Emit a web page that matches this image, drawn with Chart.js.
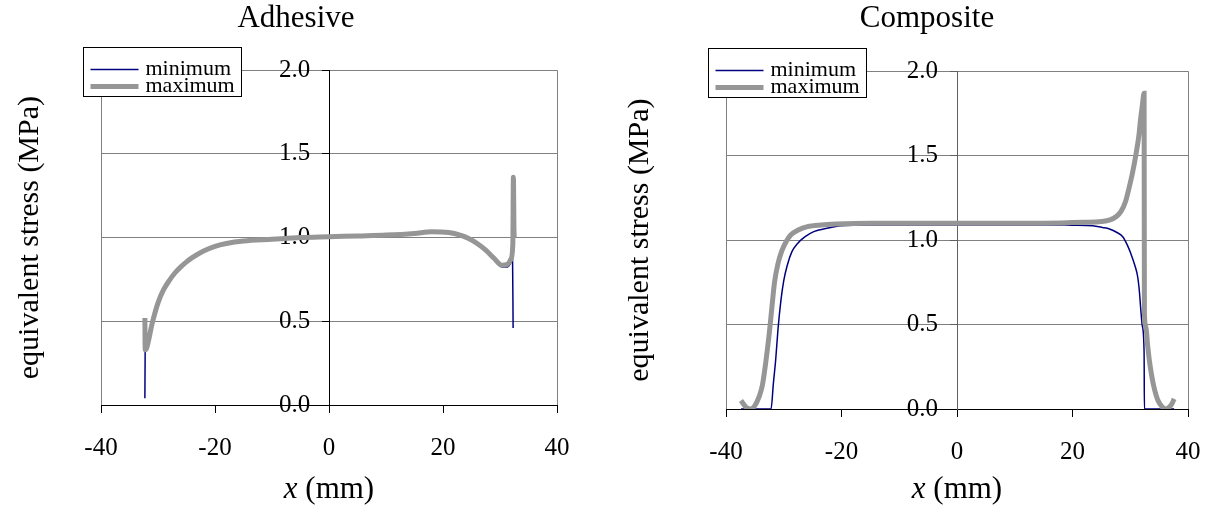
<!DOCTYPE html>
<html>
<head>
<meta charset="utf-8">
<script src="https://cdn.jsdelivr.net/npm/chart.js@4.4.1/dist/chart.umd.min.js"></script>
<style>
  html, body { margin: 0; padding: 0; background: #fff; overflow: hidden; width: 1209px; height: 515px; }
  canvas { position: absolute; top: 0; }
  #adhesive { left: 0; }
  #composite { left: 604px; }
</style>
</head>
<body>
<canvas id="adhesive" width="604" height="515"></canvas>
<canvas id="composite" width="632" height="515"></canvas>
<script>
// tick labels
const xTicks = [-40, -20, 0, 20, 40];
const yTicks = [0, 0.5, 1.0, 1.5, 2.0];
const seriesNames = ['minimum', 'maximum'];

// Adhesive
const adhesiveMinX = [-32.3, -32.25, -32.0, -31.0, -30.0, -29.0, -28.0, -27.0, -26.0, -25.0, -24.0, -22.0, -20.0, -18.0, -15.0, -10.0, -5.0, 0, 5, 10, 15, 18, 21, 23, 24.5, 26, 27.5, 29, 30.3, 31.3, 31.9, 32.2, 32.3];
const adhesiveMinY = [0.04, 0.33, 0.34, 0.49, 0.61, 0.69, 0.745, 0.79, 0.825, 0.855, 0.88, 0.92, 0.948, 0.965, 0.98, 0.99, 1.0, 1.005, 1.01, 1.015, 1.025, 1.035, 1.03, 1.015, 0.995, 0.965, 0.925, 0.875, 0.825, 0.825, 0.85, 0.88, 0.46];
const adhesiveMaxX = [-32.3, -32.25, -32.0, -31.0, -30.0, -29.0, -28.0, -27.0, -26.0, -25.0, -24.0, -22.0, -20.0, -18.0, -15.0, -10.0, -5.0, 0, 5, 10, 15, 18, 21, 23, 24.5, 26, 27.5, 29, 30.3, 31.3, 31.9, 32.25, 32.35, 32.45, 32.5];
const adhesiveMaxY = [0.52, 0.33, 0.34, 0.49, 0.61, 0.69, 0.745, 0.79, 0.825, 0.855, 0.88, 0.92, 0.948, 0.965, 0.98, 0.99, 1.0, 1.005, 1.01, 1.015, 1.025, 1.035, 1.03, 1.015, 0.995, 0.965, 0.925, 0.875, 0.835, 0.84, 0.87, 0.96, 1.36, 1.05, 1.0];

// Composite
const compositeMinX = [-37.4, -32.2, -31.8, -31.4, -31.0, -30.5, -30.0, -29.4, -28.6, -27.6, -26.3, -24.8, -22.5, -20.2, -15, 0, 15, 20, 23.5, 25.2, 26.4, 27.7, 28.7, 29.5, 30.1, 30.8, 31.3, 31.6, 31.8, 32.1, 32.4, 32.45, 37.6];
const compositeMinY = [0, 0, 0.15, 0.29, 0.47, 0.64, 0.76, 0.85, 0.93, 0.98, 1.02, 1.05, 1.07, 1.085, 1.09, 1.09, 1.09, 1.088, 1.085, 1.075, 1.066, 1.045, 1.02, 0.97, 0.92, 0.85, 0.78, 0.69, 0.60, 0.49, 0.33, 0, 0];
const compositeMaxX = [-37.4, -36.5, -35.7, -35.0, -34.3, -33.7, -33.1, -32.5, -32.0, -31.6, -31.0, -30.4, -29.6, -28.8, -27.5, -25.9, -23.5, -21, -15, 0, 15, 22, 25, 26.5, 27.6, 28.4, 29.2, 29.8, 30.4, 31.0, 31.5, 31.8, 32.1, 32.4, 32.45, 32.7, 33.0, 33.3, 33.7, 34.1, 34.8, 35.6, 36.2, 36.7, 37.2, 37.6];
const compositeMaxY = [0.05, 0.01, 0.0, 0.02, 0.07, 0.14, 0.28, 0.45, 0.62, 0.75, 0.86, 0.93, 0.99, 1.03, 1.06, 1.08, 1.09, 1.095, 1.1, 1.1, 1.1, 1.105, 1.11, 1.12, 1.14, 1.17, 1.23, 1.31, 1.40, 1.51, 1.62, 1.72, 1.80, 1.87, 0.57, 0.49, 0.38, 0.29, 0.2, 0.13, 0.05, 0.01, 0.0, 0.01, 0.03, 0.06];

const serif = "'Liberation Serif', 'Times New Roman', serif";
Chart.defaults.font.family = serif;
Chart.defaults.color = '#000';

function points(xs, ys) {
  return xs.map((x, i) => ({ x: x, y: ys[i] }));
}

// legend box drawn over the plot, like the original
const boxLegend = {
  id: 'boxLegend',
  afterDraw(chart) {
    const a = chart.chartArea;
    const ctx = chart.ctx;
    const L = Math.round(a.left) - 17.5, T = Math.round(a.top) - 22.5;
    ctx.save();
    ctx.fillStyle = '#fff';
    ctx.fillRect(L, T, 158, 49);
    ctx.strokeStyle = '#000';
    ctx.lineWidth = 1;
    ctx.strokeRect(L, T, 158, 49);
    chart.data.datasets.forEach((ds, i) => {
      const y = T + 22 + i * 17;
      ctx.beginPath();
      ctx.strokeStyle = ds.borderColor;
      ctx.lineWidth = ds.borderWidth;
      ctx.moveTo(L + 7, y);
      ctx.lineTo(L + 55, y);
      ctx.stroke();
      ctx.fillStyle = '#000';
      ctx.font = '22px ' + serif;
      ctx.textBaseline = 'middle';
      ctx.textAlign = 'left';
      ctx.fillText(ds.label, L + 62, y);
    });
    ctx.restore();
  }
};

// x-axis title with italic x
const xTitle = {
  id: 'xTitle',
  afterDraw(chart) {
    const a = chart.chartArea;
    const ctx = chart.ctx;
    ctx.save();
    ctx.fillStyle = '#000';
    ctx.textBaseline = 'middle';
    ctx.textAlign = 'left';
    const it = 'italic 31px ' + serif, rm = '31px ' + serif;
    ctx.font = it;
    const w1 = ctx.measureText('x').width;
    ctx.font = rm;
    const w2 = ctx.measureText(' (mm)').width;
    let x = (a.left + a.right) / 2 - (w1 + w2) / 2;
    ctx.font = it;
    ctx.fillText('x', x, 490);
    ctx.font = rm;
    ctx.fillText(' (mm)', x + w1, 490);
    ctx.restore();
  }
};

function makeChart(id, title, minPts, maxPts, o) {
  new Chart(document.getElementById(id), {
    type: 'line',
    data: {
      datasets: [
        { label: seriesNames[0], data: minPts, borderColor: '#000080', borderWidth: 1.5, pointRadius: 0, cubicInterpolationMode: 'monotone', order: 1 },
        { label: seriesNames[1], data: maxPts, borderColor: '#969696', borderWidth: 5, pointRadius: 0, cubicInterpolationMode: 'monotone', order: 0 }
      ]
    },
    options: {
      responsive: false,
      animation: false,
      layout: { padding: { left: o.padL, right: o.padR, top: 0, bottom: 0 } },
      plugins: {
        legend: { display: false },
        tooltip: { enabled: false },
        title: {
          display: true, text: title, color: '#000',
          font: { size: 31, weight: 'normal', family: serif },
          padding: { top: 0, bottom: o.titleGap }
        }
      },
      scales: {
        x: {
          type: 'linear', min: -40, max: 40,
          afterBuildTicks: s => { s.ticks = xTicks.map(v => ({ value: v })); },
          afterFit: s => { s.height = o.xHeight; },
          ticks: { font: { size: 25 }, color: '#000', padding: 20, maxRotation: 0, autoSkip: false },
          grid: {
            color: c => (c.tick && Math.abs(c.tick.value) === 40) ? '#808080' : 'rgba(0,0,0,0)',
            tickColor: '#000', tickLength: 8, lineWidth: 1
          },
          border: { color: '#000', width: 1 }
        },
        // axis line, grid and tick marks at x = 0
        y: {
          type: 'linear', min: 0, max: 2,
          position: { x: 0 },
          afterBuildTicks: s => { s.ticks = yTicks.map(v => ({ value: v })); },
          ticks: { display: false },
          grid: { color: '#808080', tickColor: o.axisColor, tickLength: 7, lineWidth: 1 },
          border: { color: o.axisColor, width: 1 }
        },
        // tick labels, set just left of the tick marks
        yLabels: {
          axis: 'y', type: 'linear', min: 0, max: 2,
          position: { x: -3.3 },
          afterBuildTicks: s => { s.ticks = yTicks.map(v => ({ value: v })); },
          ticks: { font: { size: 25 }, color: '#000', padding: 0, callback: v => v.toFixed(1) },
          grid: { display: false },
          border: { display: false }
        },
        yTitle: {
          axis: 'y', type: 'linear', position: 'left', display: true,
          afterFit: s => { s.width = o.leftW; },
          ticks: { display: false },
          grid: { display: false },
          border: { display: false },
          title: {
            display: true, text: 'equivalent stress (MPa)', color: '#000',
            font: { size: 30, family: serif }, padding: { top: 4, bottom: 0 }
          }
        },
        yPad: {
          axis: 'y', type: 'linear', position: 'right', display: true,
          afterFit: s => { s.width = o.rightW; },
          ticks: { display: false },
          grid: { display: false },
          border: { display: false }
        }
      }
    },
    plugins: [boxLegend, xTitle]
  });
}

makeChart('adhesive', 'Adhesive', points(adhesiveMinX, adhesiveMinY), points(adhesiveMaxX, adhesiveMaxY),
  { padL: 8, padR: 20, leftW: 93, rightW: 27, titleGap: 33, xHeight: 110, axisColor: '#000' });
makeChart('composite', 'Composite', points(compositeMinX, compositeMinY), points(compositeMaxX, compositeMaxY),
  { padL: 14, padR: 0, leftW: 108, rightW: 48, titleGap: 34, xHeight: 106, axisColor: '#606060' });
</script>
</body>
</html>
